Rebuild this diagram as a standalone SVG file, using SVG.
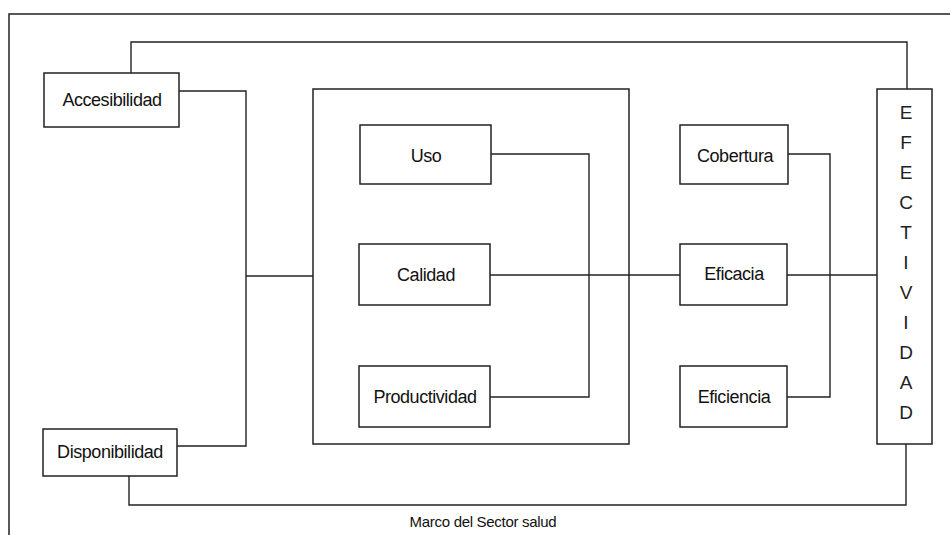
<svg xmlns="http://www.w3.org/2000/svg" width="950" height="535" viewBox="0 0 950 535">
<style>
.box{fill:#fff;stroke:#222;stroke-width:1.5}
.frame{fill:none;stroke:#222;stroke-width:1.5}
.conn{fill:none;stroke:#222;stroke-width:1.4}
.lbl{font-family:"Liberation Sans",Arial,sans-serif;font-size:18px;letter-spacing:-0.45px;fill:#111;text-anchor:middle}
.vl{font-family:"Liberation Sans",Arial,sans-serif;font-size:19px;fill:#222;text-anchor:middle}
.cap{font-family:"Liberation Sans",Arial,sans-serif;font-size:15px;letter-spacing:-0.3px;fill:#111;text-anchor:middle}
</style>
<rect width="950" height="535" fill="#fff"/>
<g id="frame">
<polyline class="frame" points="9,535 9,14 950,14"/>
</g>
<g id="connectors">
<polyline class="conn" points="131,73 131,42 907,42 907,89"/>
<polyline class="conn" points="129,476 129,505 906,505 906,444"/>
<polyline class="conn" points="179,91 246,91 246,276"/>
<polyline class="conn" points="177,446 246,446 246,276"/>
<line class="conn" x1="246" y1="276" x2="313" y2="276"/>
<polyline class="conn" points="491,154 589,154 589,397 490,397"/>
<line class="conn" x1="490" y1="275" x2="680" y2="275"/>
<polyline class="conn" points="788,154 830,154 830,397 787,397"/>
<line class="conn" x1="787" y1="275" x2="877" y2="275"/>
</g>
<g id="marco-sector">
<rect class="frame" x="313" y="89" width="316" height="355"/>
</g>
<g id="accesibilidad">
<rect class="box" x="44" y="73" width="135" height="54"/>
<text class="lbl" x="112" y="106">Accesibilidad</text>
</g>
<g id="disponibilidad">
<rect class="box" x="43" y="429" width="134" height="47"/>
<text class="lbl" x="110" y="458">Disponibilidad</text>
</g>
<g id="uso">
<rect class="box" x="360" y="125" width="131" height="59"/>
<text class="lbl" x="426" y="162">Uso</text>
</g>
<g id="calidad">
<rect class="box" x="359" y="244" width="131" height="61"/>
<text class="lbl" x="426" y="281">Calidad</text>
</g>
<g id="productividad">
<rect class="box" x="359" y="366" width="131" height="61"/>
<text class="lbl" x="425" y="403">Productividad</text>
</g>
<g id="cobertura">
<rect class="box" x="680" y="125" width="108" height="59"/>
<text class="lbl" x="735" y="162">Cobertura</text>
</g>
<g id="eficacia">
<rect class="box" x="680" y="244" width="107" height="61"/>
<text class="lbl" x="734" y="280">Eficacia</text>
</g>
<g id="eficiencia">
<rect class="box" x="680" y="366" width="107" height="61"/>
<text class="lbl" x="734" y="403">Eficiencia</text>
</g>
<g id="efectividad">
<rect class="box" x="877" y="89" width="55" height="355"/>
<text class="vl" x="906" y="119">E</text>
<text class="vl" x="906" y="149">F</text>
<text class="vl" x="906" y="179">E</text>
<text class="vl" x="906" y="209">C</text>
<text class="vl" x="906" y="239">T</text>
<text class="vl" x="906" y="269">I</text>
<text class="vl" x="906" y="299">V</text>
<text class="vl" x="906" y="329">I</text>
<text class="vl" x="906" y="359">D</text>
<text class="vl" x="906" y="389">A</text>
<text class="vl" x="906" y="419">D</text>
</g>
<text class="cap" x="483" y="527">Marco del Sector salud</text>
</svg>
